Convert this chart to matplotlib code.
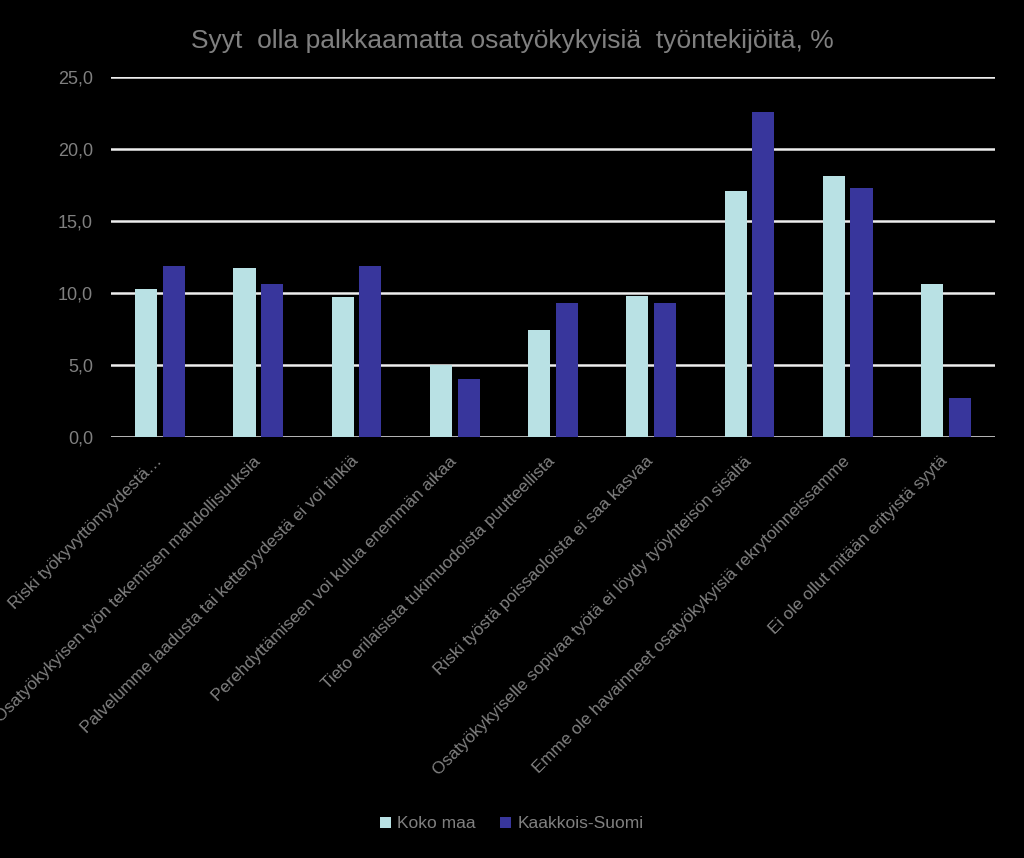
import matplotlib.pyplot as plt
import numpy as np

plt.rcParams['font.family'] = ['Liberation Sans', 'DejaVu Sans']

categories = [
    'Riski työkyvyttömyydestä…',
    'Osatyökykyisen työn tekemisen mahdollisuuksia',
    'Palvelumme laadusta tai ketteryydestä ei voi tinkiä',
    'Perehdyttämiseen voi kulua enemmän aikaa',
    'Tieto erilaisista tukimuodoista puutteellista',
    'Riski työstä poissaoloista ei saa kasvaa',
    'Osatyökykyiselle sopivaa työtä ei löydy työyhteisön sisältä',
    'Emme ole havainneet osatyökykyisiä rekrytoinneissamme',
    'Ei ole ollut mitään erityistä syytä',
]
koko_maa = [10.3, 11.7, 9.7, 5.0, 7.4, 9.8, 17.1, 18.1, 10.6]
kaakkois = [11.9, 10.6, 11.9, 4.0, 9.3, 9.3, 22.6, 17.3, 2.7]
series_names = ['Koko maa', 'Kaakkois-Suomi']

gray = '#808080'
light = '#b9e1e4'
dark = '#38369c'

fig = plt.figure(figsize=(10.24, 8.58), dpi=100, facecolor='black')
ax = fig.add_axes([0.1084, 0.4907, 0.8633, 0.4196], facecolor='black')

x = np.arange(len(categories))
w = 0.225
ax.bar(x - 0.141, koko_maa, w, color=light, label=series_names[0], zorder=3)
ax.bar(x + 0.141, kaakkois, w, color=dark, label=series_names[1], zorder=3)

ax.set_xlim(-0.5, len(categories) - 0.5)
ax.set_ylim(0, 25)
ax.set_yticks(np.arange(0, 26, 5))
ax.set_yticklabels([f'{v:.1f}'.replace('.', ',') for v in np.arange(0, 26, 5)])
ax.yaxis.grid(True, color='#eeeeee', lw=1.8, zorder=0)
ax.set_axisbelow(True)
for s in ax.spines.values():
    s.set_visible(False)
ax.tick_params(axis='both', length=0, colors=gray, labelsize=13)
ax.tick_params(axis='y', pad=13)

# labels rotated like Excel's, top-right corner near the category centre
ax.set_xticks(x - 0.06)
ax.set_xticklabels(categories, rotation=45, ha='right', va='top',
                   rotation_mode='anchor', fontsize=12.3, color=gray)
ax.tick_params(axis='x', pad=12)

fig.text(0.5, 0.952, 'Syyt  olla palkkaamatta osatyökykyisiä  työntekijöitä, %',
         ha='center', va='center', fontsize=19, color=gray)

leg = fig.legend(loc='center', bbox_to_anchor=(0.5, 0.04), ncol=2, frameon=False,
                 fontsize=12.5, handlelength=0.6, handleheight=0.6,
                 handletextpad=0.4, columnspacing=1.4)
for t in leg.get_texts():
    t.set_color(gray)

fig.savefig('out.png', dpi=100, facecolor='black')
